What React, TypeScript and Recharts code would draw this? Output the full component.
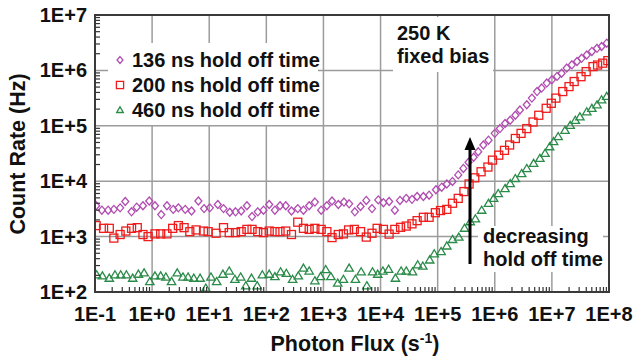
import { ScatterChart, Scatter, XAxis, YAxis, ReferenceLine } from "recharts";

// axis decades and their labels
const xMajor = [0.1, 1, 10, 100, 1e3, 1e4, 1e5, 1e6, 1e7, 1e8];
const xLabels = ["1E-1", "1E+0", "1E+1", "1E+2", "1E+3", "1E+4", "1E+5", "1E+6", "1E+7", "1E+8"];
const yMajor = [1e2, 1e3, 1e4, 1e5, 1e6, 1e7];
const yLabels = ["1E+2", "1E+3", "1E+4", "1E+5", "1E+6", "1E+7"];

const seriesNames = ["136 ns hold off time", "200 ns hold off time", "460 ns hold off time"];

// photon flux as log10 exponent, count rate in Hz
const fluxLog136 = [-0.98, -0.88, -0.77, -0.67, -0.56, -0.47, -0.36, -0.27, -0.16, -0.05, 0.05, 0.16, 0.26, 0.37, 0.46, 0.58, 0.69, 0.81, 0.91, 1.01, 1.15, 1.25, 1.36, 1.46, 1.56, 1.66, 1.75, 1.85, 1.95, 2.05, 2.15, 2.24, 2.34, 2.44, 2.55, 2.65, 2.75, 2.85, 2.96, 3.06, 3.15, 3.26, 3.36, 3.45, 3.55, 3.65, 3.75, 3.85, 3.96, 4.05, 4.15, 4.25, 4.34, 4.45, 4.55, 4.64, 4.75, 4.85, 4.97, 5.07, 5.16, 5.26, 5.36, 5.45, 5.54, 5.63, 5.71, 5.8, 5.89, 6.0, 6.09, 6.18, 6.27, 6.36, 6.44, 6.56, 6.65, 6.74, 6.82, 6.91, 7.0, 7.09, 7.17, 7.26, 7.35, 7.44, 7.52, 7.61, 7.7, 7.79, 7.87, 7.96];
const count136 = [3600, 3000, 3000, 3100, 3300, 4300, 2800, 3400, 3600, 4400, 3600, 2500, 3600, 3100, 3300, 3100, 2900, 4400, 3200, 3300, 3800, 3200, 2750, 2800, 2900, 3600, 2300, 2800, 3000, 3800, 3000, 3600, 3600, 2900, 3200, 3000, 3600, 4200, 3000, 3600, 4400, 3800, 4200, 3900, 2800, 3500, 4500, 3200, 4600, 4100, 4300, 3000, 4500, 4900, 4700, 5300, 5300, 5600, 7000, 7800, 8900, 9900, 13000, 17000, 22000, 27000, 34000, 45000, 55000, 73000, 89000, 110000, 126000, 155000, 193000, 240000, 316000, 415000, 480000, 590000, 675000, 780000, 890000, 1100000, 1260000, 1450000, 1650000, 1900000, 2200000, 2500000, 2700000, 3100000];

const fluxLog200 = [-0.98, -0.85, -0.75, -0.67, -0.56, -0.46, -0.36, -0.26, -0.16, -0.07, 0.05, 0.15, 0.26, 0.36, 0.46, 0.56, 0.66, 0.77, 0.9, 0.98, 1.12, 1.25, 1.35, 1.46, 1.56, 1.66, 1.75, 1.85, 1.95, 2.05, 2.15, 2.24, 2.34, 2.44, 2.55, 2.65, 2.75, 2.85, 2.96, 3.06, 3.15, 3.26, 3.35, 3.44, 3.54, 3.65, 3.75, 3.85, 3.94, 4.05, 4.15, 4.25, 4.35, 4.45, 4.55, 4.64, 4.75, 4.85, 4.96, 5.05, 5.16, 5.26, 5.36, 5.46, 5.55, 5.65, 5.76, 5.88, 5.96, 6.07, 6.17, 6.26, 6.36, 6.46, 6.56, 6.67, 6.77, 6.9, 6.99, 7.07, 7.19, 7.3, 7.39, 7.51, 7.6, 7.72, 7.8, 7.89, 7.98];
const count200 = [1580, 1410, 1410, 940, 1090, 1260, 1410, 1450, 1090, 1000, 1120, 1120, 1120, 1410, 1580, 1450, 1230, 1320, 1260, 1230, 1150, 1450, 1180, 1180, 1230, 1350, 1350, 1230, 1180, 1260, 1230, 1230, 1260, 1090, 1820, 1410, 1350, 1410, 1350, 1230, 960, 1090, 1120, 1320, 1350, 1230, 980, 1150, 1410, 1350, 1110, 1350, 1470, 1550, 1700, 1940, 2230, 2230, 2700, 2950, 3100, 4000, 4900, 6500, 8900, 11500, 14800, 18000, 24000, 29500, 36000, 45000, 59000, 73000, 89000, 117000, 155000, 207000, 255000, 316000, 415000, 510000, 630000, 770000, 950000, 1170000, 1250000, 1350000, 1500000];

const fluxLog460 = [-0.97, -0.87, -0.75, -0.65, -0.55, -0.45, -0.34, -0.24, -0.14, -0.04, 0.05, 0.15, 0.24, 0.34, 0.44, 0.54, 0.63, 0.73, 0.84, 0.94, 1.03, 1.13, 1.24, 1.35, 1.45, 1.55, 1.64, 1.74, 1.84, 1.93, 2.05, 2.15, 2.25, 2.35, 2.46, 2.56, 2.65, 2.75, 2.85, 2.95, 3.04, 3.13, 3.25, 3.35, 3.45, 3.56, 3.66, 3.76, 3.86, 3.95, 4.04, 4.14, 4.26, 4.36, 4.45, 4.56, 4.65, 4.74, 4.86, 4.94, 5.06, 5.16, 5.26, 5.37, 5.47, 5.57, 5.66, 5.77, 5.89, 5.98, 6.06, 6.18, 6.27, 6.36, 6.47, 6.56, 6.68, 6.79, 6.88, 6.96, 7.03, 7.11, 7.23, 7.32, 7.41, 7.49, 7.61, 7.7, 7.79, 7.87, 7.96];
const count460 = [205, 196, 178, 205, 205, 205, 178, 210, 222, 155, 196, 196, 187, 155, 222, 187, 187, 178, 178, 118, 187, 155, 210, 240, 170, 187, 130, 178, 130, 205, 210, 190, 232, 218, 170, 196, 270, 240, 160, 190, 255, 190, 145, 170, 270, 170, 232, 130, 232, 210, 240, 258, 178, 240, 240, 232, 310, 295, 380, 490, 540, 680, 890, 980, 1420, 1860, 2100, 3000, 4000, 4900, 6000, 7400, 9100, 11200, 13800, 17000, 21000, 26000, 32000, 42000, 52000, 64000, 83000, 102000, 126000, 145000, 179000, 207000, 240000, 295000, 340000];

const toPoints = (logs: number[], counts: number[]) =>
  logs.map((e, i) => ({ x: Math.pow(10, e), y: counts[i] }));

const withMinors = (majors: number[]) => {
  const out: number[] = [];
  majors.forEach((m, i) => {
    out.push(m);
    if (i < majors.length - 1) for (let k = 2; k <= 9; k++) out.push(m * k);
  });
  return out;
};

const PURPLE = "#b04cb0";
const RED = "#ee1c1c";
const GREEN = "#2a8a48";
const FONT = "'Liberation Sans', Arial, sans-serif";

const textStyle = { fontFamily: FONT, fontWeight: 700, fontSize: 20, fill: "#111" };

function Diamond({ cx, cy, s = 1 }: any) {
  return (
    <polygon
      points={`${cx},${cy - 4 * s} ${cx + 3.5 * s},${cy} ${cx},${cy + 4 * s} ${cx - 3.5 * s},${cy}`}
      fill="none" stroke={PURPLE} strokeWidth={1.3}
    />
  );
}

function Square({ cx, cy, s = 1 }: any) {
  return <rect x={cx - 4 * s} y={cy - 4 * s} width={8 * s} height={8 * s} fill="none" stroke={RED} strokeWidth={1.3} />;
}

function Triangle({ cx, cy, s = 1 }: any) {
  return (
    <polygon
      points={`${cx},${cy - 4 * s} ${cx + 4.2 * s},${cy + 3.1 * s} ${cx - 4.2 * s},${cy + 3.1 * s}`}
      fill="none" stroke={GREEN} strokeWidth={1.3}
    />
  );
}

function XTick({ x, y, payload }: any) {
  const i = xMajor.indexOf(payload.value);
  return (
    <g>
      {i < 0 && <line x1={x} x2={x} y1={y} y2={y - 5} stroke="#333" strokeWidth={1.2} />}
      {i >= 0 && (
        <text x={x} y={y + 29} textAnchor="middle" style={textStyle}>
          {xLabels[i]}
        </text>
      )}
    </g>
  );
}

function YTick({ x, y, payload }: any) {
  const i = yMajor.indexOf(payload.value);
  return (
    <g>
      {i < 0 && <line x1={x} x2={x + 5} y1={y} y2={y} stroke="#333" strokeWidth={1.2} />}
      {i >= 0 && (
        <text x={x - 8} y={y + 7} textAnchor="end" style={textStyle}>
          {yLabels[i]}
        </text>
      )}
    </g>
  );
}

export default function App() {
  const d136 = toPoints(fluxLog136, count136);
  const d200 = toPoints(fluxLog200, count200);
  const d460 = toPoints(fluxLog460, count460);

  return (
    <div style={{ position: "absolute", left: 0, top: 0, width: 636, height: 360, background: "#fff" }}>
      <ScatterChart width={636} height={360} margin={{ top: 15, right: 27, bottom: 0, left: 0 }}>
        <XAxis
          dataKey="x" type="number" scale="log" domain={[0.1, 1e8]} allowDataOverflow
          ticks={withMinors(xMajor)} interval={0} tick={XTick}
          axisLine={false} tickLine={false} tickSize={0} tickMargin={0} height={68}
        />
        <YAxis
          dataKey="y" type="number" scale="log" domain={[1e2, 1e7]} allowDataOverflow
          ticks={withMinors(yMajor)} interval={0} tick={YTick}
          axisLine={false} tickLine={false} tickSize={0} tickMargin={0} width={95}
        />
        {xMajor.slice(1, -1).map((v) => (
          <ReferenceLine key={"gx" + v} x={v} stroke="#9c9c9c" strokeWidth={1.5} />
        ))}
        {yMajor.slice(1, -1).map((v) => (
          <ReferenceLine key={"gy" + v} y={v} stroke="#9c9c9c" strokeWidth={1.5} />
        ))}
        <Scatter name={seriesNames[0]} data={d136} shape={Diamond} isAnimationActive={false} />
        <Scatter name={seriesNames[1]} data={d200} shape={Square} isAnimationActive={false} />
        <Scatter name={seriesNames[2]} data={d460} shape={Triangle} isAnimationActive={false} />
      </ScatterChart>

      <svg width={636} height={360} style={{ position: "absolute", left: 0, top: 0, pointerEvents: "none" }}>
        {/* boxes hiding the grid behind the texts */}
        <rect x={108} y={43} width={210} height={82} fill="#fff" />
        <rect x={393} y={17} width={100} height={55} fill="#fff" />
        <rect x={478} y={226} width={125} height={46} fill="#fff" />

        {/* plot frame */}
        <rect x={95} y={15} width={514} height={277} fill="none" stroke="#3a3a3a" strokeWidth={2} />

        {/* legend */}
        <Diamond cx={120} cy={60} s={0.85} />
        <text x={132} y={67} style={textStyle}>{seriesNames[0]}</text>
        <Square cx={120} cy={85} s={0.9} />
        <text x={132} y={92} style={textStyle}>{seriesNames[1]}</text>
        <Triangle cx={120} cy={110} s={0.8} />
        <text x={132} y={117} style={textStyle}>{seriesNames[2]}</text>

        {/* annotations */}
        <text x={397} y={40} style={textStyle}>250 K</text>
        <text x={397} y={63} style={textStyle}>fixed bias</text>
        <line x1={470} x2={470} y1={148} y2={264} stroke="#000" strokeWidth={3} />
        <polygon points="470,137 475.5,150 464.5,150" fill="#000" />
        <text x={483} y={243} style={textStyle}>decreasing</text>
        <text x={483} y={266} style={textStyle}>hold off time</text>

        {/* axis titles */}
        <text x={355} y={351} textAnchor="middle" style={{ ...textStyle, fontSize: 21.5 }}>
          Photon Flux (s<tspan dy={-8} fontSize={14}>-1</tspan><tspan dy={8}>)</tspan>
        </text>
        <text
          transform="translate(25,154) rotate(-90)" textAnchor="middle"
          style={{ ...textStyle, fontSize: 21.5 }}
        >
          Count Rate (Hz)
        </text>
      </svg>
    </div>
  );
}
